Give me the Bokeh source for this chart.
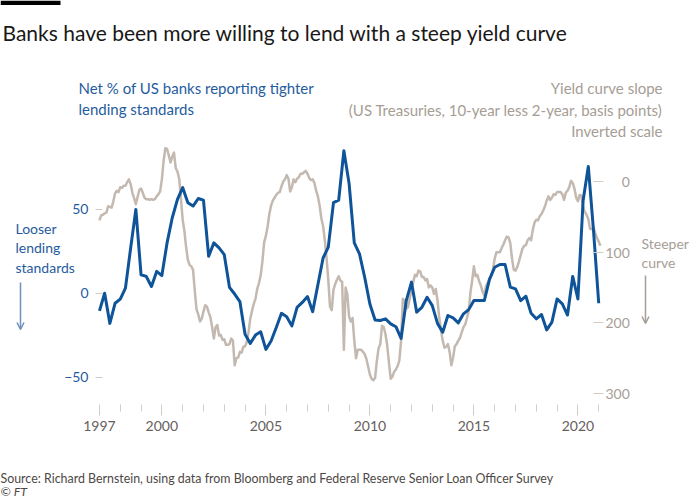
from bokeh.plotting import figure
from bokeh.models import (Range1d, LinearAxis, Label, Arrow, OpenHead, FixedTicker,
                          BoxAnnotation)
from bokeh.embed import file_html
from bokeh.resources import INLINE

# ---------------- data ----------------
# Net % of US banks reporting tighter lending standards (quarterly, from 1997 Q1)
survey_start = 1997.0
survey_net_pct = [
    -10.5, 0, -18, -6, -3.5, 3, 27, 50, 11, 10, 4, 13,
    10.5, 30, 45, 56, 63, 54, 52, 56.5, 55.5, 22, 30, 27,
    23, 3.5, -0.5, -5, -24.5, -30, -25, -23, -33.5, -28.5, -20.5, -12,
    -14, -19.5, -8.5, -5.5, -2, -11, 5, 21, 27.5, 54, 55.5, 85,
    65.5, 30, 23.5, 9.5, -6.4, -16, -16.3, -15.3, -18.3, -20, -27, -4.4,
    6.6, -11.3, -8.4, -2.4, -7.4, -18, -23.3, -13.3, -14.7, -17.7, -12.3, -9.8,
    -4.4, -4.4, -4.4, 8.2, 15.5, 17.1, 17.1, 3.6, 2.6, -4.4, -1.8, -12,
    -15.3, -12.7, -21.9, -17.3, -3.4, -6.4, -13, 10, -3.4, 55.3, 75.6, 37.4,
    -6,
]
survey_years = [survey_start + k / 4 for k in range(len(survey_net_pct))]

# Yield curve slope, 10-year less 2-year, basis points (monthly, from Jan 1997)
slope_start = 1997.0
slope_bp = [
    55, 48, 47, 45, 44, 35, 36, 37, 28, 17, 13, 15,
    8, 9, 6, 6, 1, -3, 4, 16, 24, 32, 22, 12,
    10, 16, 23, 25, 25, 26, 25, 26, 25, 21, 18, 14,
    -3, -29, -47, -46, -37, -27, -35, -41, -19, -14, -4, 24,
    54, 70, 93, 111, 118, 120, 125, 155, 181, 188, 198, 194,
    184, 175, 177, 185, 192, 206, 222, 206, 203, 218, 217, 224,
    223, 231, 231, 230, 222, 225, 260, 250, 249, 241, 242, 234,
    233, 227, 213, 194, 183, 173, 166, 152, 144, 133, 113, 86,
    77, 64, 46, 34, 27, 23, 19, 16, 15, 7, 0, -3,
    -9, -4, 14, 8, -3, 1, -4, -6, -11, -11, -13, -15,
    -11, -5, -2, -3, 2, 13, 21, 34, 52, 63, 83, 108,
    139, 177, 182, 153, 145, 139, 134, 140, 142, 238, 150, 160,
    191, 198, 193, 225, 250, 238, 238, 238, 241, 244, 251, 262,
    273, 279, 281, 278, 254, 236, 230, 204, 206, 216, 232, 256,
    279, 276, 269, 266, 261, 253, 225, 166, 168, 180, 178, 165,
    154, 142, 132, 134, 126, 127, 135, 135, 140, 138, 150, 147,
    150, 159, 152, 168, 192, 210, 225, 235, 234, 230, 241, 260,
    249, 233, 230, 225, 221, 213, 206, 202, 193, 183, 157, 140,
    120, 134, 132, 141, 147, 156, 161, 148, 143, 137, 133, 124,
    109, 100, 100, 100, 94, 89, 83, 78, 79, 87, 109, 125,
    126, 121, 113, 104, 95, 91, 90, 83, 80, 83, 68, 58,
    54, 55, 49, 46, 41, 35, 27, 21, 26, 23, 18, 19,
    15, 15, 15, 18, 26, 16, 13, 8, -1, 2, 10, 23,
    28, 19, 20, 36, 43, 47, 53, 67, 67, 65, 73, 80, 85, 91,
]
slope_years = [slope_start + i / 12 for i in range(len(slope_bp))]

labelled_years = [1997, 2000, 2005, 2010, 2015, 2020]
other_years = [y for y in range(1998, 2022) if y not in labelled_years]
left_ticks = [-50, 0, 50]
right_ticks = [0, 100, 200, 300]

# ---------------- style ----------------
FONT = "Lato"
BLUE = "#0f5499"
BLUE_TEXT = "#1f5c9e"
BLUE_ARROW = "#6f90bd"
GREY_LINE = "#c4b9b0"
GREY_TEXT = "#a69d95"
TICK = "#d5cbc2"
AXIS_TEXT = "#66605c"
W, H = 700, 500

# ---------------- main chart ----------------
p = figure(
    frame_width=508, frame_height=264,
    min_border_left=95, min_border_right=97, min_border_top=140, min_border_bottom=96,
    x_range=Range1d(1996.81, 2021.23), y_range=Range1d(-66.4, 91.1),
    output_backend="svg", toolbar_location=None, title=None,
    background_fill_color="white", border_fill_color="white",
)
p.outline_line_color = None
p.grid.visible = False
p.extra_y_ranges = {"slope": Range1d(315.4, -58)}

xa = p.xaxis[0]
xa.ticker = FixedTicker(ticks=labelled_years, minor_ticks=other_years)
xa.axis_line_color = None
xa.major_tick_line_color = TICK
xa.major_tick_out = 11
xa.major_tick_in = 0
xa.minor_tick_line_color = TICK
xa.minor_tick_out = 7
xa.minor_tick_in = 0
xa.major_label_standoff = 5
xa.major_label_text_font = FONT
xa.major_label_text_font_size = "14px"
xa.major_label_text_color = AXIS_TEXT

ya = p.yaxis[0]
ya.ticker = FixedTicker(ticks=left_ticks)
ya.axis_line_color = None
ya.major_tick_line_color = TICK
ya.major_tick_in = 7
ya.major_tick_out = 0
ya.minor_tick_line_color = None
ya.major_label_standoff = 7
ya.major_label_text_font = FONT
ya.major_label_text_font_size = "14px"
ya.major_label_text_color = BLUE_TEXT

ra = LinearAxis(y_range_name="slope", ticker=FixedTicker(ticks=right_ticks))
ra.axis_line_color = None
ra.major_tick_line_color = TICK
ra.major_tick_in = 10
ra.major_tick_out = 0
ra.minor_tick_line_color = None
ra.major_label_standoff = 2
ra.major_label_text_font = FONT
ra.major_label_text_font_size = "14px"
ra.major_label_text_color = GREY_TEXT
ra.major_label_overrides = {0: "\u2007\u20070"}
p.add_layout(ra, "right")

p.line(slope_years, slope_bp, y_range_name="slope", line_color=GREY_LINE,
       line_width=2.5, line_join="round")
p.line(survey_years, survey_net_pct, line_color=BLUE, line_width=3, line_join="round")

# ---------------- text layer (pixel space, overlaid on the chart) ----------------
t = figure(width=W, height=H, x_range=Range1d(0, W), y_range=Range1d(H, 0),
           min_border=0, x_axis_type=None, y_axis_type=None,
           output_backend="svg", toolbar_location=None, title=None,
           background_fill_color=None, border_fill_color=None,
           styles={"position": "absolute", "left": "0px", "top": "0px"})
t.outline_line_color = None
t.grid.visible = False


def lab(text, x, y, size, color, align="left", style="normal", baseline="middle"):
    t.add_layout(Label(x=x, y=y, text=text, text_font=FONT, text_font_size=size,
                       text_color=color, text_align=align, text_baseline=baseline,
                       text_font_style=style))


t.add_layout(BoxAnnotation(left=0, right=60, top=0, bottom=4.5,
                           fill_color="black", fill_alpha=1, line_color=None))

lab("Banks have been more willing to lend with a steep yield curve", 2, 32, "21px", "#1a1817",
    baseline="alphabetic")
lab("Net % of US banks reporting tighter", 78, 87, "15px", BLUE_TEXT)
lab("lending standards", 78, 108, "15px", BLUE_TEXT)
lab("Yield curve slope", 662, 87, "15px", GREY_TEXT, align="right")
lab("(US Treasuries, 10-year less 2-year, basis points)", 662, 109, "15px", GREY_TEXT, align="right")
lab("Inverted scale", 662, 130, "15px", GREY_TEXT, align="right")
lab("Looser", 15, 228, "14px", BLUE_TEXT)
lab("lending", 15, 247, "14px", BLUE_TEXT)
lab("standards", 15, 267, "14px", BLUE_TEXT)
lab("Steeper", 641, 243, "14px", GREY_TEXT)
lab("curve", 641, 262, "14px", GREY_TEXT)
lab("Source: Richard Bernstein, using data from Bloomberg and Federal Reserve Senior Loan Officer Survey",
    0, 478, "12.4px", "#4d4845")
lab("\u00a9 FT", 0, 491, "12.4px", "#4d4845", style="italic")

t.add_layout(Arrow(x_start=20, y_start=282, x_end=20, y_end=329,
                   line_color=BLUE_ARROW, line_width=1.5,
                   end=OpenHead(size=7, line_color=BLUE_ARROW, line_width=1.5)))
t.add_layout(Arrow(x_start=645, y_start=275, x_end=645, y_end=323,
                   line_color=GREY_TEXT, line_width=1.5,
                   end=OpenHead(size=7, line_color=GREY_TEXT, line_width=1.5)))

open("out.html", "w").write(file_html([p, t], INLINE))
